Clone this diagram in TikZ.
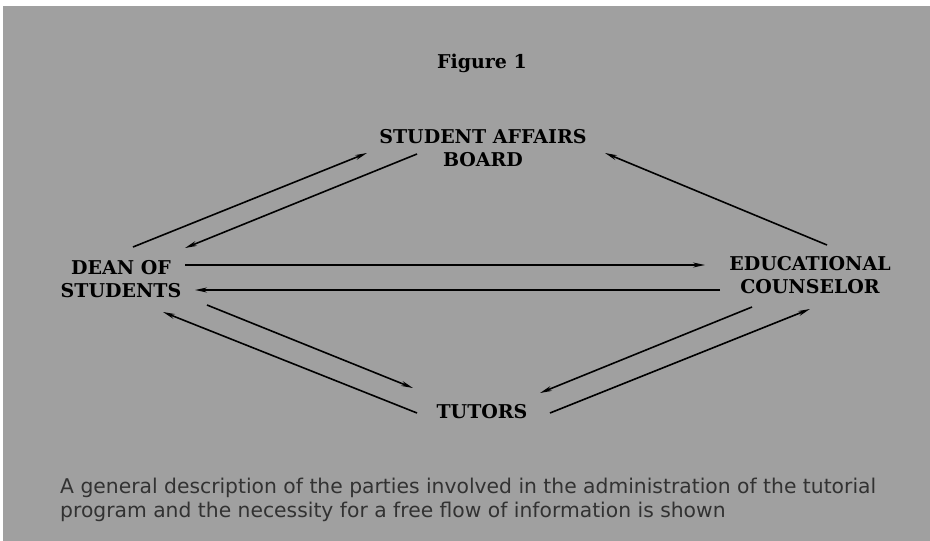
\documentclass[tikz,border=0pt]{standalone}
\usepackage{fontspec}
\setmainfont{DejaVu Serif}
\newfontfamily\capfont{DejaVu Sans}
\usepackage{xcolor}
\definecolor{screen}{RGB}{160,160,160}
\definecolor{captext}{RGB}{50,50,50}
\usepackage{tikz}
\usetikzlibrary{calc,arrows.meta}

\begin{document}
\begin{tikzpicture}[x=1pt,y=-1pt,
    party/.style={font=\bfseries\fontsize{19}{23}\selectfont, align=center, inner sep=0pt},
    flow/.style={line width=1.6pt, -{Stealth[length=12pt,width=5pt]}}]
          \useasboundingbox (0,0) rectangle (930,541);
          \fill[white] (-5,-5) rectangle (935,546);
          \fill[screen] (3,6) rectangle (935,546);
          \node[font=\bfseries\fontsize{19}{23}\selectfont, inner sep=0pt] (fig) at (482,63) {Figure 1};
          \node[party] (sab) at (483,148) {STUDENT AFFAIRS\\BOARD};
          \node[party] (dean) at (121,279) {DEAN OF\\STUDENTS};
          \node[party] (edu) at (810,275) {EDUCATIONAL\\COUNSELOR};
          \node[party] (tutors) at (482,412) {TUTORS};
          \draw[flow] ($(dean)+(12,-32)$) -- ($(sab)+(-116,5)$);
          \draw[flow] ($(sab)+(-66,6)$) -- ($(dean)+(64,-31)$);
          \draw[flow] ($(edu)+(17,-30)$) -- ($(sab)+(122,5)$);
          \draw[flow] ($(dean)+(64,-14)$) -- ($(edu)+(-105,-10)$);
          \draw[flow] ($(edu)+(-90,15)$) -- ($(dean)+(74,11)$);
          \draw[flow] ($(tutors)+(-65,1)$) -- ($(dean)+(42,33)$);
          \draw[flow] ($(dean)+(86,26)$) -- ($(tutors)+(-69,-24)$);
          \draw[flow] ($(edu)+(-58,32)$) -- ($(tutors)+(58,-19)$);
          \draw[flow] ($(tutors)+(68,1)$) -- ($(edu)+(0,34)$);
          \node[font=\capfont\fontsize{20.3}{24}\selectfont, text=captext, align=left, anchor=north west, inner sep=0pt] (note) at (60,478)
            {A general description of the parties involved in the administration of the tutorial\\program and the necessity for a free flow of information is shown};
        \end{tikzpicture}
\end{document}
